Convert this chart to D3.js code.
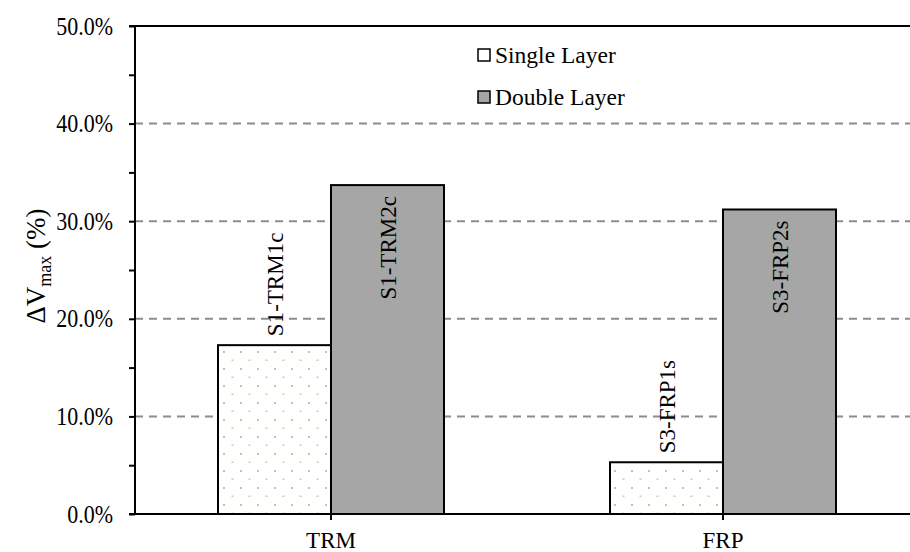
<!DOCTYPE html>
<html><head><meta charset="utf-8">
<script src="https://cdn.jsdelivr.net/npm/d3@7"></script>
<style>body{margin:0;background:#fff}svg{display:block}</style>
</head><body><svg id="c" width="910" height="552"></svg>
<script>
const categories = ["TRM", "FRP"];
const seriesNames = ["Single Layer", "Double Layer"];
const singleValues = [17.3, 5.3];
const doubleValues = [33.7, 31.2];
const singleLabels = ["S1-TRM1c", "S3-FRP1s"];
const doubleLabels = ["S1-TRM2c", "S3-FRP2s"];
const yTicks = [0, 10, 20, 30, 40, 50];

const FONT = "'Liberation Serif', 'Times New Roman', serif";
const svg = d3.select("#c").style("font-family", FONT);
const L = 135, R = 919, T = 26, B = 514;
const defs = svg.append("defs");
const pat = defs.append("pattern").attr("id","dots").attr("patternUnits","userSpaceOnUse")
  .attr("width",17).attr("height",17).attr("x",L+3).attr("y",T+2);
pat.append("rect").attr("width",17).attr("height",17).attr("fill","#fff");
pat.append("rect").attr("x",0).attr("y",0).attr("width",2).attr("height",2).attr("fill","#cfc290");
pat.append("rect").attr("x",8.5).attr("y",8.5).attr("width",2).attr("height",1.5).attr("fill","#d6cb9e");

const x = d3.scaleBand().domain(categories).range([L, R]);
const y = d3.scaleLinear().domain([0, 50]).range([B, T]);
const bw = 113;

// gridlines
svg.append("g").selectAll("line").data(yTicks.filter(d => d > 0 && d < 50)).join("line")
  .attr("x1", L).attr("x2", 910).attr("y1", d => y(d)).attr("y2", d => y(d))
  .attr("stroke", "#8c8c8c").attr("stroke-width", 2).attr("stroke-dasharray", "8,6");

// top border
svg.append("line").attr("x1", L).attr("x2", 910).attr("y1", y(50)).attr("y2", y(50))
  .attr("stroke", "#000").attr("stroke-width", 2);

// bars
const cx = c => x(c) + x.bandwidth() / 2;
svg.append("g").selectAll("rect").data(categories).join("rect")
  .attr("x", c => cx(c) - bw).attr("width", bw)
  .attr("y", (c, i) => y(singleValues[i])).attr("height", (c, i) => B - y(singleValues[i]))
  .attr("fill", "url(#dots)").attr("stroke", "#000").attr("stroke-width", 2);
svg.append("g").selectAll("rect").data(categories).join("rect")
  .attr("x", c => cx(c)).attr("width", bw)
  .attr("y", (c, i) => y(doubleValues[i])).attr("height", (c, i) => B - y(doubleValues[i]))
  .attr("fill", "#a6a6a6").attr("stroke", "#000").attr("stroke-width", 2);

// bar labels
svg.append("g").selectAll("text").data(categories).join("text")
  .attr("transform", (c, i) => `translate(${cx(c) - bw/2 + 8},${y(singleValues[i]) - 9}) rotate(-90)`)
  .attr("text-anchor", "start").style("font-size", "23px").style("font-family", FONT)
  .text((c, i) => singleLabels[i]);
svg.append("g").selectAll("text").data(categories).join("text")
  .attr("transform", (c, i) => `translate(${cx(c) + bw/2 + 8},${y(doubleValues[i]) + 11}) rotate(-90)`)
  .attr("text-anchor", "end").style("font-size", "23px").style("font-family", FONT)
  .text((c, i) => doubleLabels[i]);

// y axis
const yAxis = d3.axisLeft(y).tickValues(d3.range(0, 50.1, 5)).tickSize(6)
  .tickFormat(d => d % 10 === 0 ? d.toFixed(1) + "%" : "").tickPadding(16);
const gy = svg.append("g").attr("transform", `translate(${L},0)`).call(yAxis);
gy.attr("font-family", null).attr("font-size", null);
gy.select(".domain").attr("stroke", "#000").attr("stroke-width", 2).attr("d", `M-6,${T}H0V${B}H-6`);
gy.selectAll(".tick line").attr("stroke", "#000").attr("stroke-width", 2);
gy.selectAll(".tick text").style("font-size", "22px").style("font-family", FONT).attr("fill", "#000")
  .attr("dy", null).attr("y", 0).attr("transform", "translate(0,8) scale(1,1.12)");

// x axis
const xAxis = d3.axisBottom(x).tickSize(6).tickPadding(14);
const gx = svg.append("g").attr("transform", `translate(0,${B})`).call(xAxis);
gx.attr("font-family", null).attr("font-size", null);
gx.select(".domain").attr("d", `M${L},0H910`).attr("stroke", "#000").attr("stroke-width", 2);
gx.selectAll(".tick line").attr("stroke", "#000").attr("stroke-width", 2);
gx.selectAll(".tick text").style("font-size", "23px").style("font-family", FONT).attr("fill", "#000")
  .attr("dy", null).attr("y", 34);

// y title
const yt = svg.append("text").attr("transform", "translate(45,266) rotate(-90)")
  .attr("text-anchor", "middle").style("font-size", "27px").style("font-family", FONT);
yt.append("tspan").text("\u0394V");
yt.append("tspan").style("font-size", "18px").attr("dy", 6).text("max");
yt.append("tspan").attr("dy", -6).text(" (%)");

// legend
const lg = svg.append("g");
seriesNames.forEach((n, i) => {
  const yy = 55 + i * 42;
  lg.append("rect").attr("x", 478).attr("y", yy - 6).attr("width", 12).attr("height", 12)
    .attr("fill", i ? "#a6a6a6" : "#fff").attr("stroke", "#000").attr("stroke-width", 1.5);
  lg.append("text").attr("x", 495).attr("y", yy + 8).style("font-size", "23.5px")
    .style("font-family", FONT).text(n);
});
</script></body></html>
